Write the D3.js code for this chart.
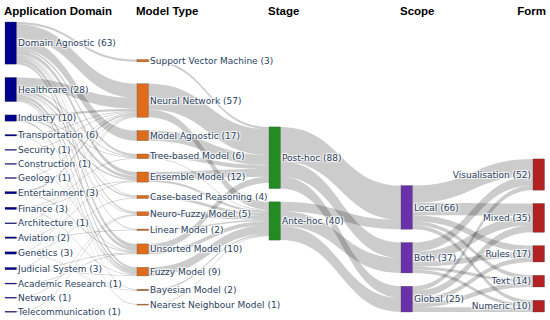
<!DOCTYPE html>
<html>
<head>
<meta charset="utf-8">
<script src="https://cdn.jsdelivr.net/npm/d3@7"></script>
<style>
  body { margin: 0; background: #fff; }
  .label {
    font-family: "DejaVu Sans", Verdana, sans-serif;
    font-size: 9px;
    fill: #2a3f5f;
    text-shadow: 1px 1px 1px #fff, -1px -1px 1px #fff, 1px -1px 1px #fff, -1px 1px 1px #fff;
  }
  .header {
    font-family: "Liberation Sans", Arial, sans-serif;
    font-size: 11.5px;
    font-weight: bold;
    fill: #000;
  }
</style>
</head>
<body>
<div id="chart"></div>
<script>
// Column headers and node labels (the numbers are the counts printed in the labels).
const headers = ["Application Domain", "Model Type", "Stage", "Scope", "Form"];

const domains = ["Domain Agnostic", "Healthcare", "Industry", "Transportation", "Security",
  "Construction", "Geology", "Entertainment", "Finance", "Architecture", "Aviation",
  "Genetics", "Judicial System", "Academic Research", "Network", "Telecommunication"];
const domainCounts = [63, 28, 10, 6, 1, 1, 1, 3, 3, 1, 2, 3, 3, 1, 1, 1];

const models = ["Support Vector Machine", "Neural Network", "Model Agnostic", "Tree-based Model",
  "Ensemble Model", "Case-based Reasoning", "Neuro-Fuzzy Model", "Linear Model",
  "Unsorted Model", "Fuzzy Model", "Bayesian Model", "Nearest Neighbour Model"];
const modelCounts = [3, 57, 17, 6, 12, 4, 5, 2, 10, 9, 2, 1];

const stages = ["Post-hoc", "Ante-hoc"];
const stageCounts = [88, 40];

const scopes = ["Local", "Both", "Global"];
const scopeCounts = [66, 37, 25];

const forms = ["Visualisation", "Mixed", "Rules", "Text", "Numeric"];
const formCounts = [52, 35, 17, 14, 10];

// Flows, estimated from the band widths: [source, target, value]
const domainModelLinks = [
  ["Domain Agnostic", "Support Vector Machine", 3], ["Domain Agnostic", "Neural Network", 18],
  ["Domain Agnostic", "Model Agnostic", 13], ["Domain Agnostic", "Tree-based Model", 3],
  ["Domain Agnostic", "Ensemble Model", 5], ["Domain Agnostic", "Case-based Reasoning", 1],
  ["Domain Agnostic", "Neuro-Fuzzy Model", 2], ["Domain Agnostic", "Linear Model", 1],
  ["Domain Agnostic", "Unsorted Model", 5], ["Domain Agnostic", "Fuzzy Model", 3],
  ["Healthcare", "Neural Network", 14], ["Healthcare", "Tree-based Model", 1],
  ["Healthcare", "Ensemble Model", 4], ["Healthcare", "Case-based Reasoning", 2],
  ["Healthcare", "Neuro-Fuzzy Model", 1], ["Healthcare", "Unsorted Model", 4],
  ["Healthcare", "Fuzzy Model", 3], ["Healthcare", "Bayesian Model", 1],
  ["Healthcare", "Nearest Neighbour Model", 1],
  ["Industry", "Neural Network", 3], ["Industry", "Tree-based Model", 1],
  ["Industry", "Ensemble Model", 2], ["Industry", "Fuzzy Model", 2],
  ["Transportation", "Neural Network", 1], ["Transportation", "Fuzzy Model", 1],
  ["Security", "Neural Network", 1],
  ["Construction", "Unsorted Model", 1],
  ["Geology", "Neural Network", 1],
  ["Entertainment", "Neural Network", 2], ["Entertainment", "Unsorted Model", 1],
  ["Finance", "Tree-based Model", 1], ["Finance", "Ensemble Model", 1], ["Finance", "Fuzzy Model", 1],
  ["Architecture", "Neural Network", 1],
  ["Aviation", "Ensemble Model", 1], ["Aviation", "Linear Model", 1],
  ["Genetics", "Neural Network", 1], ["Genetics", "Case-based Reasoning", 1], ["Genetics", "Bayesian Model", 1],
  ["Judicial System", "Neural Network", 1], ["Judicial System", "Unsorted Model", 1], ["Judicial System", "Fuzzy Model", 1],
  ["Academic Research", "Unsorted Model", 1],
  ["Network", "Neuro-Fuzzy Model", 1],
  ["Telecommunication", "Neuro-Fuzzy Model", 1]
];

const modelStageLinks = [
  ["Support Vector Machine", "Post-hoc", 3], ["Neural Network", "Post-hoc", 33],
  ["Neural Network", "Ante-hoc", 10], ["Model Agnostic", "Post-hoc", 13],
  ["Tree-based Model", "Post-hoc", 5], ["Tree-based Model", "Ante-hoc", 1],
  ["Ensemble Model", "Post-hoc", 10], ["Ensemble Model", "Ante-hoc", 3],
  ["Case-based Reasoning", "Ante-hoc", 4], ["Neuro-Fuzzy Model", "Ante-hoc", 5],
  ["Linear Model", "Ante-hoc", 2], ["Unsorted Model", "Post-hoc", 8],
  ["Unsorted Model", "Ante-hoc", 5], ["Fuzzy Model", "Ante-hoc", 11],
  ["Bayesian Model", "Ante-hoc", 2], ["Nearest Neighbour Model", "Ante-hoc", 1]
];

const stageScopeLinks = [
  ["Post-hoc", "Local", 44], ["Post-hoc", "Both", 20], ["Post-hoc", "Global", 15],
  ["Ante-hoc", "Local", 12], ["Ante-hoc", "Both", 19], ["Ante-hoc", "Global", 18]
];

const scopeFormLinks = [
  ["Local", "Visualisation", 22], ["Local", "Mixed", 16], ["Local", "Rules", 8],
  ["Local", "Text", 5], ["Local", "Numeric", 5],
  ["Both", "Visualisation", 12], ["Both", "Mixed", 12], ["Both", "Rules", 7],
  ["Both", "Text", 4], ["Both", "Numeric", 4],
  ["Global", "Visualisation", 6], ["Global", "Mixed", 9], ["Global", "Rules", 6],
  ["Global", "Text", 6], ["Global", "Numeric", 6]
];

const colors = ["#00008b", "#df6c1d", "#228b22", "#6a32a8", "#b22222"];
// Columns that are relaxed by the sankey iterations; the others sit at the bottom.
const columnAlign = ["relax", "relax", "relax", "bottom", "bottom"];

// Size of the page and of the diagram area.
const totalWidth = 550;
const totalHeight = 320;
const extent = {x0: 5, x1: 544.5, y0: 22, y1: 312};
const nodeWidth = 11.5;
const nodePad = 13.3;
const iterations = 75;

const svg = d3.select("#chart")
  .append("svg")
  .attr("width", totalWidth)
  .attr("height", totalHeight);

// Build the graph.
const columnNames = [domains, models, stages, scopes, forms];
const columnCounts = [domainCounts, modelCounts, stageCounts, scopeCounts, formCounts];
const nodes = [];
columnNames.forEach((names, c) => names.forEach((name, i) => {
  nodes.push({name, count: columnCounts[c][i], col: c, sourceLinks: [], targetLinks: []});
}));
const byName = new Map(nodes.map(n => [n.name, n]));

const links = [domainModelLinks, modelStageLinks, stageScopeLinks, scopeFormLinks].flat()
  .map(([s, t, v]) => ({source: byName.get(s), target: byName.get(t), value: v}));
links.forEach(l => { l.source.sourceLinks.push(l); l.target.targetLinks.push(l); });
nodes.forEach(n => {
  n.value = Math.max(d3.sum(n.sourceLinks, l => l.value), d3.sum(n.targetLinks, l => l.value));
});

// Horizontal position of the columns.
const x = d3.scalePoint().domain(d3.range(5)).range([extent.x0, extent.x1 - nodeWidth]);
nodes.forEach(n => { n.x0 = x(n.col); n.x1 = n.x0 + nodeWidth; });

// Vertical layout.
const cols = d3.range(5).map(c => nodes.filter(n => n.col === c));
const ky = d3.min(cols, c => (extent.y1 - extent.y0 - (c.length - 1) * nodePad) / d3.sum(c, n => n.value));
const size = d3.scaleLinear().domain([0, 1]).range([0, ky]);
links.forEach(l => { l.width = size(l.value); });

cols.forEach((c, ci) => {
  if (columnAlign[ci] === "bottom") {
    let y = extent.y1;
    c.slice().reverse().forEach(n => { n.y1 = y; n.y0 = y - size(n.value); y = n.y0 - nodePad; });
  } else {
    c.forEach((n, i) => { n.y0 = i; n.y1 = i + size(n.value); });
  }
});
const relaxed = cols.filter((c, ci) => columnAlign[ci] === "relax");

const center = n => (n.y0 + n.y1) / 2;

function resolveCollisions() {
  relaxed.forEach(c => {
    let y = extent.y0, node, dy;
    for (let i = 0; i < c.length; i++) {
      node = c[i];
      dy = y - node.y0;
      if (dy > 0) { node.y0 += dy; node.y1 += dy; }
      y = node.y1 + nodePad;
    }
    dy = y - nodePad - extent.y1;
    if (dy > 0) {
      y = (node.y0 -= dy); node.y1 -= dy;
      for (let i = c.length - 2; i >= 0; --i) {
        node = c[i];
        dy = node.y1 + nodePad - y;
        if (dy > 0) { node.y0 -= dy; node.y1 -= dy; }
        y = node.y0;
      }
    }
  });
}

function relaxLeftToRight(alpha) {
  relaxed.forEach(c => c.forEach(n => {
    if (n.targetLinks.length) {
      const dy = (d3.sum(n.targetLinks, l => center(l.source) * l.value) /
        d3.sum(n.targetLinks, l => l.value) - center(n)) * alpha;
      n.y0 += dy; n.y1 += dy;
    }
  }));
}

function relaxRightToLeft(alpha) {
  relaxed.slice().reverse().forEach(c => c.forEach(n => {
    if (n.sourceLinks.length) {
      const dy = (d3.sum(n.sourceLinks, l => center(l.target) * l.value) /
        d3.sum(n.sourceLinks, l => l.value) - center(n)) * alpha;
      n.y0 += dy; n.y1 += dy;
    }
  }));
}

resolveCollisions();
for (let alpha = 1, k = iterations; k > 0; --k) {
  relaxRightToLeft(alpha *= 0.99);
  resolveCollisions();
  relaxLeftToRight(alpha);
  resolveCollisions();
}

// Stack the link ends on each node.
nodes.forEach(n => {
  n.sourceLinks.sort((a, b) => a.target.y0 - b.target.y0);
  n.targetLinks.sort((a, b) => a.source.y0 - b.source.y0);
});
nodes.forEach(n => {
  let y0 = n.y0, y1 = n.y0;
  n.sourceLinks.forEach(l => { l.y0 = y0 + l.width / 2; y0 += l.width; });
  n.targetLinks.forEach(l => { l.y1 = y1 + l.width / 2; y1 += l.width; });
});

function linkPath(d) {
  const xa = d.source.x1, xb = d.target.x0;
  const xi = d3.interpolateNumber(xa, xb), c = xi(0.5);
  const h = d.width / 2;
  return `M${xa},${d.y0 - h}C${c},${d.y0 - h} ${c},${d.y1 - h} ${xb},${d.y1 - h}` +
    `L${xb},${d.y1 + h}C${c},${d.y1 + h} ${c},${d.y0 + h} ${xa},${d.y0 + h}Z`;
}

// Links
svg.append("g")
  .selectAll("path")
  .data(links)
  .join("path")
    .attr("d", linkPath)
    .style("fill", "rgba(0,0,0,0.2)");

// Nodes
svg.append("g")
  .selectAll("rect")
  .data(nodes)
  .join("rect")
    .attr("x", d => d.x0)
    .attr("y", d => d.y0)
    .attr("width", nodeWidth)
    .attr("height", d => Math.max(1, d.y1 - d.y0))
    .style("fill", d => colors[d.col])
    .style("stroke", "#444")
    .style("stroke-width", 0.3);

// Node labels
svg.append("g")
  .selectAll("text")
  .data(nodes)
  .join("text")
    .attr("class", "label")
    .attr("x", d => d.col === 4 ? d.x0 - 2 : d.x1 + 1.5)
    .attr("y", d => center(d))
    .attr("dy", "0.35em")
    .attr("text-anchor", d => d.col === 4 ? "end" : "start")
    .text(d => `${d.name} (${d.count})`);

// Column headers
svg.append("g")
  .selectAll("text")
  .data(headers)
  .join("text")
    .attr("class", "header")
    .attr("x", (d, i) => i === 4 ? x(i) + nodeWidth + 1.5 : x(i) - 1)
    .attr("y", 15)
    .attr("text-anchor", (d, i) => i === 4 ? "end" : "start")
    .text(d => d);
</script>
</body>
</html>
